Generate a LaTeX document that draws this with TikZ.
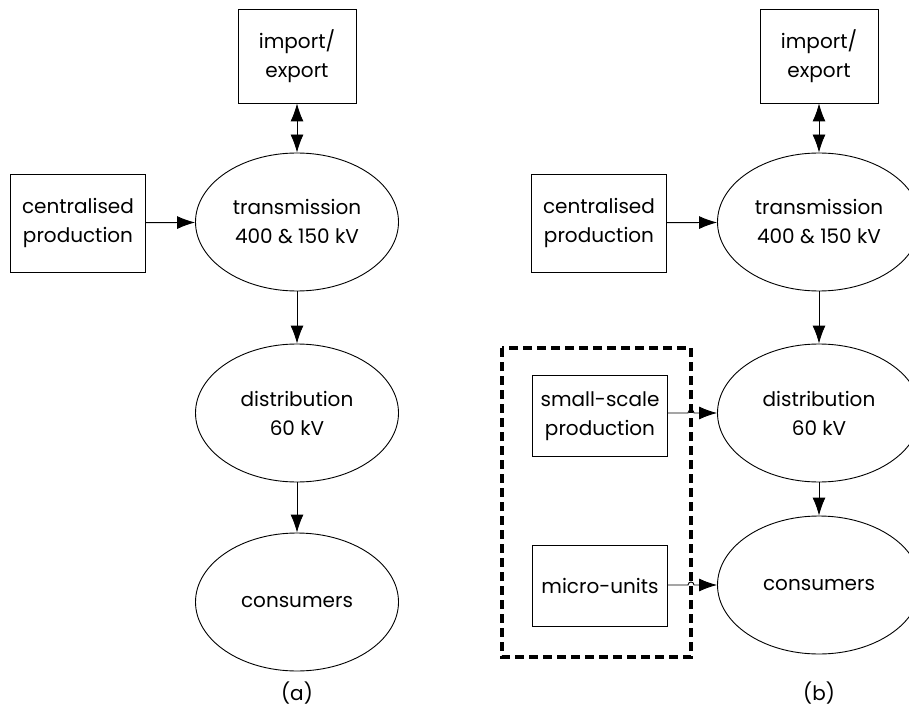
\documentclass[tikz,border=0pt]{standalone}
\usepackage{fontspec}
\setmainfont{Poppins}
\usepackage{tikz}
\usetikzlibrary{positioning, arrows.meta, shapes.geometric}

\tikzset{
	unitbox/.style={draw, line width=0.9pt, rectangle, align=center, inner sep=0pt, minimum width=135pt, minimum height=98pt},
	netnode/.style={draw, line width=0.9pt, ellipse, align=center, inner sep=0pt, minimum width=203pt, minimum height=138pt},
	flow/.style={->, line width=0.9pt},
	groupbox/.style={line width=3.4pt, dash pattern=on 9pt off 5pt}
}

\begin{document}
\begin{tikzpicture}[x=1pt, y=-1pt, >={Latex[length=18pt,width=13pt]},
	font=\fontsize{20pt}{29pt}\selectfont]
		
		\useasboundingbox (0,0) rectangle (909,708);
		
		% (a) present grid
		\node[unitbox, minimum width=118pt, minimum height=94pt] (impA) at (297,56) {import/\\export};
		\node[unitbox] (centA) at (78,223) {centralised\\production};
		\node[netnode] (transA) at (297,222) {transmission\\400 \& 150 kV};
		\node[netnode] (distA) at (297,413) {distribution\\60 kV};
		\node[netnode] (consA) at (297,602) {consumers};
		\node (capA) at (297,693) {(a)};
		
		\draw[<->, line width=0.9pt] (impA) -- (transA);
		\draw[flow] (centA) -- (transA);
		\draw[flow] (transA) -- (distA);
		\draw[flow] (distA) -- (consA);
		
		% (b) with distributed units
		\node[unitbox, minimum width=118pt, minimum height=94pt] (impB) at (819,56) {import/\\export};
		\node[unitbox] (centB) at (599,223) {centralised\\production};
		\node[netnode] (transB) at (819,222) {transmission\\400 \& 150 kV};
		\node[netnode] (distB) at (819,413) {distribution\\60 kV};
		\node[netnode] (consB) at (819,585) {consumers};
		\node[unitbox, minimum height=81pt] (small) at (600,416) {small-scale\\production};
		\node[unitbox, minimum height=81pt] (micro) at (600,586) {micro-units};
		\node (capB) at (819,693) {(b)};
		
		\draw[groupbox] (502,348) rectangle (691,657);
		
		\draw[<->, line width=0.9pt] (impB) -- (transB);
		\draw[flow] (centB) -- (transB);
		\draw[flow] (transB) -- (distB);
		\draw[flow] (distB) -- (consB);
		% hop over the dashed frame
		\draw[flow] (small.east |- distB) -- (688,413) arc[start angle=180, end angle=0, radius=3pt] -- (distB);
		\draw[flow] (micro.east |- consB) -- (688,585) arc[start angle=180, end angle=0, radius=3pt] -- (consB);
		
	\end{tikzpicture}
\end{document}
